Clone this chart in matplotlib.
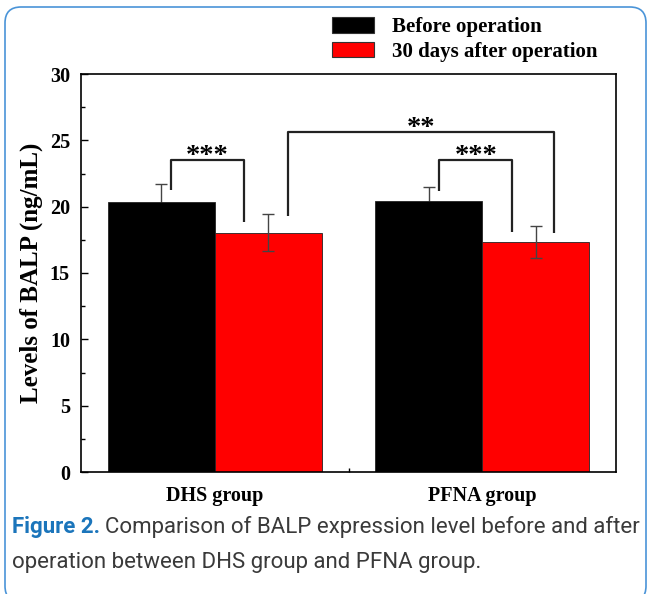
import matplotlib
matplotlib.use('Agg')
import matplotlib.pyplot as plt
import numpy as np
from matplotlib.patches import FancyBboxPatch, Patch
from matplotlib.transforms import IdentityTransform
from matplotlib.ticker import MultipleLocator, FixedLocator

groups = ['DHS group', 'PFNA group']
series = ['Before operation', '30 days after operation']
before = [20.37, 20.45]
before_err = [1.36, 1.05]
after = [18.04, 17.31]
after_err = [1.40, 1.20]
colors = ['black', 'red']

# significance brackets: (x left, x right, y left, y right, y top, label)
brackets = [
    (0.836, 1.109, 21.26, 18.84, 23.52, '***'),
    (1.273, 2.270, 19.30, 18.01, 25.63, '**'),
    (1.839, 2.112, 21.18, 18.07, 23.52, '***'),
]

serif = 'Liberation Serif'

fig = plt.figure(figsize=(6.49, 5.94), dpi=100)
ax = fig.add_axes([81/649, 122/594, 535/649, 398/594])

x = np.arange(1, len(groups) + 1)
w = 0.4
# error bars of the black bars go behind them (lower half hidden like the original)
ax.errorbar(x - w/2, before, yerr=before_err, fmt='none', ecolor='#444444', elinewidth=1,
            capsize=4, capthick=1, zorder=0.5)
ax.bar(x - w/2, before, w, color=colors[0], edgecolor='#222222', linewidth=0.6, label=series[0], zorder=1)
ax.bar(x + w/2, after, w, color=colors[1], edgecolor='#222222', linewidth=0.6, label=series[1], zorder=1)
ax.errorbar(x + w/2, after, yerr=after_err, fmt='none', ecolor='#444444', elinewidth=1,
            capsize=4, capthick=1, zorder=2)

for xl, xr, yl, yr, yt, lab in brackets:
    ax.plot([xl, xl, xr, xr], [yl, yt, yt, yr], color='#222222', lw=1.6, solid_capstyle='butt')
    ax.text((xl + xr)/2, yt - 0.2, lab, ha='center', va='baseline', fontsize=20.5,
            fontweight='bold', family=serif)

ax.set_xlim(0.5, 2.5)
ax.set_ylim(0, 30)
ax.yaxis.set_major_locator(MultipleLocator(5))
ax.yaxis.set_minor_locator(MultipleLocator(2.5))
ax.set_xticks(x)
ax.set_xticklabels(groups)
ax.xaxis.set_minor_locator(FixedLocator([1.5]))
ax.tick_params(axis='y', which='major', direction='in', length=5, width=1, pad=8)
ax.tick_params(axis='y', which='minor', direction='in', length=3, width=1)
ax.tick_params(axis='x', which='major', length=0, pad=10)
ax.tick_params(axis='x', which='minor', direction='in', length=3, width=1)
for lab in ax.get_xticklabels() + ax.get_yticklabels():
    lab.set_fontfamily(serif)
    lab.set_fontweight('bold')
    lab.set_fontsize(14.5)
for s in ax.spines.values():
    s.set_linewidth(1.2)

ax.set_ylabel('Levels of BALP (ng/mL)', fontsize=18, fontweight='bold', family=serif, labelpad=5)

handles = [Patch(facecolor=colors[0], edgecolor='#333333', linewidth=0.8),
           Patch(facecolor=colors[1], edgecolor='#333333', linewidth=0.8)]
fig.legend(handles, series, loc='upper left', bbox_to_anchor=(332/649, 1 - 17/594),
           bbox_transform=fig.transFigure, frameon=False, borderpad=0, borderaxespad=0,
           handlelength=2.0, handleheight=0.77, handletextpad=0.87, labelspacing=0.22,
           prop={'family': serif, 'weight': 'bold', 'size': 15})

# rounded blue frame around the figure
frame = FancyBboxPatch((5, -8), 641, 595, boxstyle='round,pad=0,rounding_size=16',
                       transform=IdentityTransform(), facecolor='none',
                       edgecolor='#4a94d8', linewidth=1.2)
fig.add_artist(frame)

# caption
cap_size = 16
t1 = fig.text(12/649, 1 - 533/594, 'Figure 2.', color='#1b75bb', fontsize=cap_size,
              fontweight='bold', family='Roboto', va='baseline')
fig.canvas.draw()
bb = t1.get_window_extent()
fig.text((bb.x1 + 5)/649, 1 - 533/594, 'Comparison of BALP expression level before and after',
         color='#3a3a3a', fontsize=cap_size, family='Roboto', va='baseline')
fig.text(12/649, 1 - 568/594, 'operation between DHS group and PFNA group.',
         color='#3a3a3a', fontsize=cap_size, family='Roboto', va='baseline')

fig.savefig('out.png', dpi=100)
